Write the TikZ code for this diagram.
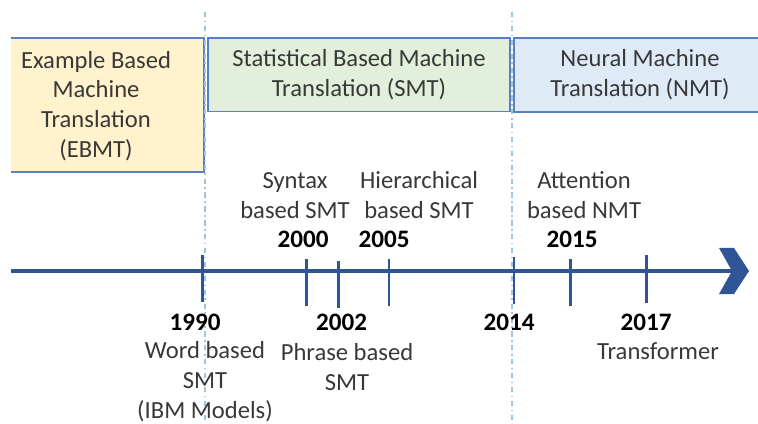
\documentclass[tikz,border=0pt]{standalone}
\usepackage{fontspec}
\setmainfont{Carlito}
\definecolor{axisblue}{HTML}{2F5597}
\definecolor{boxline}{HTML}{5A80C4}
\definecolor{ebmtfill}{HTML}{FFF2CC}
\definecolor{smtfill}{HTML}{E2EFDA}
\definecolor{nmtfill}{HTML}{DEEBF7}
\definecolor{eraline}{HTML}{9DC3E6}

\tikzset{
  era/.style={align=center, font=\fontsize{14}{17}\selectfont, text=black!78},
  year/.style={font=\fontsize{14.3}{17}\selectfont\bfseries},
  model/.style={align=center, font=\fontsize{14}{17}\selectfont, text=black!78},
  tick/.style={color=axisblue, line width=1.4pt}
}

\begin{document}
\begin{tikzpicture}
  \useasboundingbox (0,-3.04) rectangle (15.16,5.42);

  % era boxes
  \fill[ebmtfill] (0.22,1.98) rectangle (4.08,4.66);
  \draw[boxline, line width=1.1pt] (0.22,4.66) -- (4.08,4.66) -- (4.08,1.98) -- (0.22,1.98);
  \draw[boxline, line width=1.1pt, fill=smtfill] (4.16,3.19) rectangle (10.2,4.66);
  \fill[nmtfill] (10.28,3.18) rectangle (15.3,4.66);
  \draw[boxline, line width=1.1pt] (15.3,4.66) -- (10.28,4.66) -- (10.28,3.18) -- (15.3,3.18);

  \node[era] (ebmt) at (1.92,3.3) {Example Based\\Machine\\Translation\\(EBMT)};
  \node[era] (smt) at (7.18,3.92) {Statistical Based Machine\\Translation (SMT)};
  \node[era] (nmt) at (12.8,3.92) {Neural Machine\\Translation (NMT)};

  % era borders
  \draw[eraline, line width=0.9pt, dash dot] (4.1,5.18) -- (4.1,-3.04);
  \draw[eraline, line width=0.9pt, dash dot] (10.24,5.18) -- (10.24,-3.04);

  % time axis
  \draw[axisblue, line width=2.3pt] (0.22,0) -- (14.7,0);
  \fill[axisblue] (14.38,0.46) -- (14.68,0.46) -- (14.98,0) -- (14.68,-0.46) -- (14.38,-0.46) -- (14.64,0) -- cycle;

  \foreach \x/\a/\b in {4.05/0.32/-0.62, 6.13/0.24/-0.7, 6.77/0.19/-0.74, 7.78/0.24/-0.7,
                        10.28/0.29/-0.66, 11.41/0.24/-0.7, 12.93/0.32/-0.63}
  {
  \draw[tick] (\x,\a) -- (\x,\b);
  }

  \node[year] (y1990) at (3.9,-1.02) {1990};
  \node[model] (m1990) at (4.1,-2.22) {Word based\\SMT\\(IBM Models)};
  \node[year] (y2000) at (6.06,0.64) {2000};
  \node[model] (m2000) at (5.9,1.515) {Syntax\\based SMT};
  \node[year] (y2002) at (6.83,-1.02) {2002};
  \node[model] (m2002) at (6.94,-1.92) {Phrase based\\SMT};
  \node[year] (y2005) at (7.68,0.64) {2005};
  \node[model] (m2005) at (8.38,1.515) {Hierarchical\\based SMT};
  \node[year] (y2014) at (10.18,-1.02) {2014};
  \node[year] (y2015) at (11.44,0.64) {2015};
  \node[model] (m2015) at (11.68,1.515) {Attention\\based NMT};
  \node[year] (y2017) at (12.92,-1.02) {2017};
  \node[model] (m2017) at (13.16,-1.6) {Transformer};

\end{tikzpicture}
\end{document}
